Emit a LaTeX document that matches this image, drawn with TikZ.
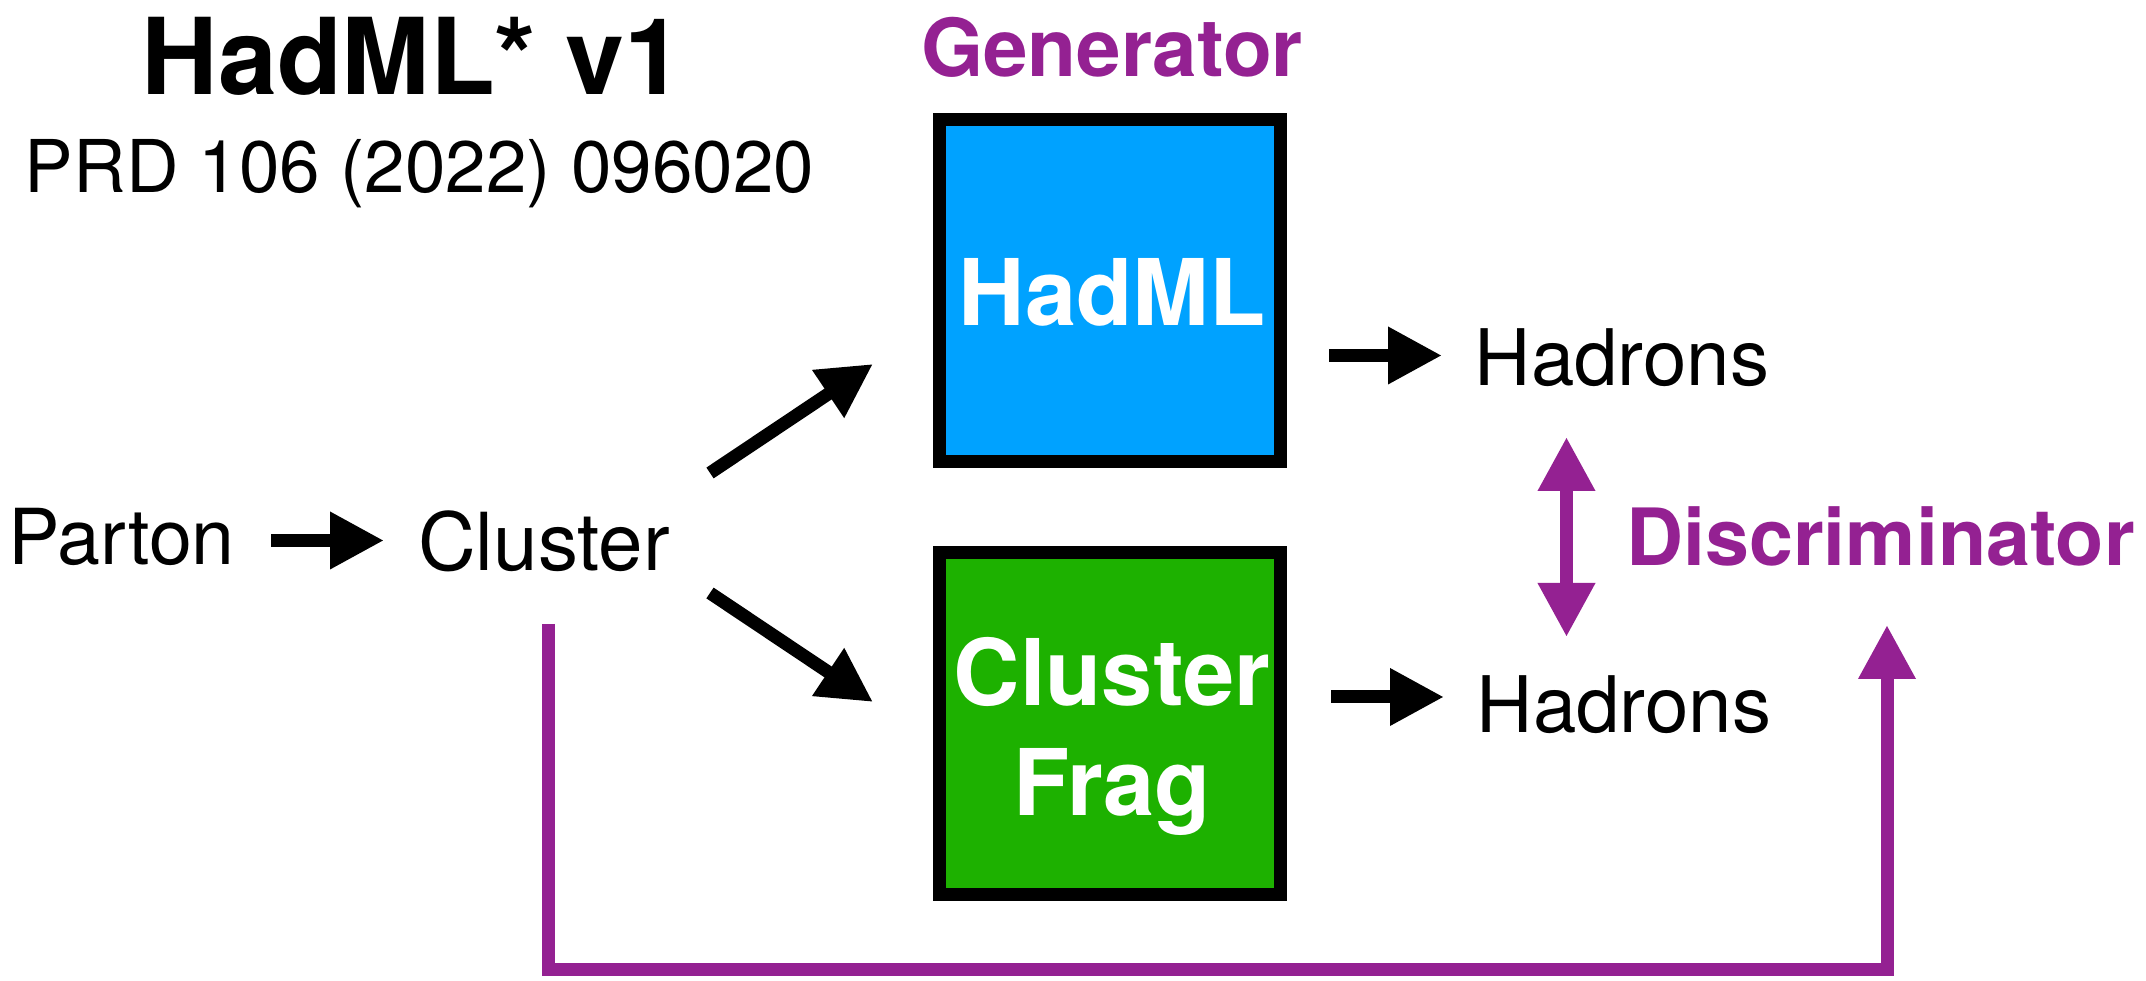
\documentclass[tikz,border=0pt]{standalone}
\usepackage{fontspec}
\setmainfont{TeX Gyre Heros}
\usetikzlibrary{arrows.meta}
\definecolor{plum}{RGB}{148,33,146}
\definecolor{boxblue}{RGB}{0,162,255}
\definecolor{boxgreen}{RGB}{29,177,0}
\begin{document}
\begin{tikzpicture}[x=0.25pt,y=-0.25pt,
  lbl/.style={inner sep=0pt, anchor=base},
  fs/.style={font=\fontsize{#1}{1.2\dimexpr#1\relax}\selectfont},
  bfs/.style={font=\bfseries\fontsize{#1}{1.2\dimexpr#1\relax}\selectfont},
  boxnode/.style={draw=black, line width=3.25pt, minimum width=85.25pt, minimum height=85.5pt,
    inner sep=0pt},
  boxtext/.style={inner sep=0pt, text=white, align=center, font=\bfseries\fontsize{23pt}{27.5pt}\selectfont},
  tipT/.tip={Triangle[length=13.5pt,width=13.5pt]},
  arr/.style={line width=3.25pt, -tipT},
  parr/.style={draw=plum, line width=3.25pt, line join=miter},
]
\fill[white] (0,0) rectangle (2146,981);
\useasboundingbox (0,0) rectangle (2146,981);

% titles
\node[lbl, bfs=26.5pt] (title) at (412.5,95) {HadML* v1};
\node[lbl, fs=18.2pt] (ref) at (419.5,193) {PRD 106 (2022) 096020};
\node[lbl, bfs=20pt, text=plum] (gen) at (1112,77) {Generator};

% boxes
\node[boxnode, fill=boxblue] (hadml) at (1110,290.5) {};
\node[boxnode, fill=boxgreen] (frag) at (1110,724) {};
\node[boxtext, anchor=base] (hadmltxt) at (1112,326) {HadML};
\node[boxtext] (fragtxt) at (1112,736) {Cluster\\Frag};

% labels
\node[lbl, fs=19.3pt] (parton) at (121.5,565) {Parton};
\node[lbl, fs=20pt] (cluster) at (544,571) {Cluster};
\node[lbl, fs=19.5pt] (hadtop) at (1622,386) {Hadrons};
\node[lbl, fs=19.5pt] (hadbot) at (1624,733) {Hadrons};
\node[lbl, bfs=19.75pt, text=plum] (disc) at (1880.5,566) {Discriminator};

% arrow end points
\coordinate (pcS) at (271,540.5);  \coordinate (pcE) at (384,540.5);
\coordinate (cuS) at (710,473);    \coordinate (cuE) at (873,364);
\coordinate (cdS) at (710,593);    \coordinate (cdE) at (873,702);
\coordinate (htS) at (1329,355.5); \coordinate (htE) at (1442,355.5);
\coordinate (hbS) at (1331,697);   \coordinate (hbE) at (1444,697);
\coordinate (dT) at (1566.5,437);  \coordinate (dB) at (1566.5,637);
\coordinate (fbTop) at (548.5,624);
\coordinate (fbBL) at (548.5,970);
\coordinate (fbBR) at (1887,970);
\coordinate (fbTip) at (1887,625);

% black arrows
\draw[arr] (pcS) -- (pcE);
\draw[arr] (cuS) -- (cuE);
\draw[arr] (cdS) -- (cdE);
\draw[arr] (htS) -- (htE);
\draw[arr] (hbS) -- (hbE);

% purple arrows
\draw[parr, tipT-tipT] (dB) -- (dT);
\draw[parr, -tipT] (fbTop) -- (fbBL) -- (fbBR) -- (fbTip);
\end{tikzpicture}
\end{document}
